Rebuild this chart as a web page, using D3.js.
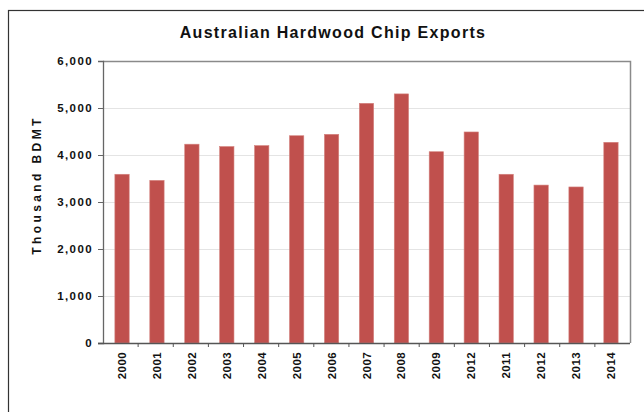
<!DOCTYPE html>
<html>
<head>
<meta charset="utf-8">
<script src="https://cdn.jsdelivr.net/npm/d3@7/dist/d3.min.js"></script>
<style>
  html, body { margin: 0; padding: 0; background: #fff; }
  svg { display: block; }
  text { font-family: "Liberation Sans", Arial, sans-serif; }
</style>
</head>
<body>
<svg id="chart" width="644" height="412"></svg>
<script>
// Export volumes, thousand bone-dry metric tonnes
const years = ["2000", "2001", "2002", "2003", "2004", "2005", "2006", "2007",
               "2008", "2009", "2012", "2011", "2012", "2013", "2014"];
const exports = [3590, 3460, 4230, 4180, 4200, 4410, 4440, 5100,
                 5300, 4070, 4490, 3590, 3360, 3320, 4270];
const yTicks = [0, 1000, 2000, 3000, 4000, 5000, 6000];

const svg = d3.select("#chart");
const plot = { left: 103, top: 61, right: 630, bottom: 343 };

// outer frame (runs off the right and bottom edges)
svg.append("rect")
  .attr("x", 8.5).attr("y", 10.5)
  .attr("width", 700).attr("height", 500)
  .attr("fill", "none").attr("stroke", "#333").attr("stroke-width", 1.2);

svg.append("text")
  .attr("x", 333).attr("y", 38)
  .attr("text-anchor", "middle")
  .attr("font-size", 16).attr("font-weight", "bold").attr("fill", "#111")
  .attr("letter-spacing", 1.3)
  .text("Australian Hardwood Chip Exports");

const idx = d3.range(years.length);
const x = d3.scaleBand().domain(idx).range([plot.left, plot.right]).paddingInner(0.59).paddingOuter(0.34);
const y = d3.scaleLinear().domain([0, 6000]).range([plot.bottom, plot.top]);

// gridlines
svg.append("g").selectAll("line").data(yTicks.slice(1, -1)).join("line")
  .attr("x1", plot.left).attr("x2", plot.right)
  .attr("y1", d => y(d) + 0.5).attr("y2", d => y(d) + 0.5)
  .attr("stroke", "#e4e4e4").attr("stroke-width", 1);

// plot border (top and right)
svg.append("path")
  .attr("d", `M${plot.left},${plot.top + 0.5}H${plot.right + 0.5}V${plot.bottom}`)
  .attr("fill", "none").attr("stroke", "#8a8a8a").attr("stroke-width", 1.5);

// bars
svg.append("g").selectAll("rect").data(idx).join("rect")
  .attr("x", i => x(i))
  .attr("width", x.bandwidth())
  .attr("y", i => y(exports[i]))
  .attr("height", i => y(0) - y(exports[i]))
  .attr("fill", "#c0504d")
  .attr("stroke", "#d4837f").attr("stroke-width", 0.6);

// y axis
const yAxis = svg.append("g")
  .attr("transform", `translate(${plot.left},0)`)
  .call(d3.axisLeft(y).tickValues(yTicks).tickFormat(d3.format(",")).tickSize(5).tickPadding(5));
yAxis.select(".domain").attr("stroke", "#666").attr("stroke-width", 1.3);
yAxis.selectAll(".tick line").attr("stroke", "#666");
yAxis.selectAll("text").attr("font-size", 11.5).attr("font-weight", "bold").attr("fill", "#111")
  .attr("letter-spacing", 1.4)
  .attr("font-family", "Liberation Sans, Arial, sans-serif");

// x axis: ticks sit on the category boundaries
const boundary = d3.scaleLinear().domain([0, years.length]).range([plot.left, plot.right]);
const xg = svg.append("g");
xg.append("line")
  .attr("x1", plot.left - 5).attr("x2", plot.right)
  .attr("y1", plot.bottom + 0.5).attr("y2", plot.bottom + 0.5)
  .attr("stroke", "#555").attr("stroke-width", 1.3);
xg.selectAll(".bt").data(d3.range(1, years.length)).join("line")
  .attr("class", "bt")
  .attr("x1", d => boundary(d)).attr("x2", d => boundary(d))
  .attr("y1", plot.bottom).attr("y2", plot.bottom + 4)
  .attr("stroke", "#555");
xg.selectAll("text").data(idx).join("text")
  .attr("transform", i => `translate(${x(i) + x.bandwidth() / 2 + 4},${plot.bottom + 9}) rotate(-90)`)
  .attr("text-anchor", "end")
  .attr("font-size", 11.5).attr("font-weight", "bold").attr("fill", "#111")
  .attr("letter-spacing", 0.4)
  .text(i => years[i]);

// y axis title
svg.append("text")
  .attr("transform", "translate(41,185) rotate(-90)")
  .attr("text-anchor", "middle")
  .attr("font-size", 12).attr("font-weight", "bold").attr("fill", "#111")
  .attr("letter-spacing", 3.4)
  .text("Thousand BDMT");
</script>
</body>
</html>
